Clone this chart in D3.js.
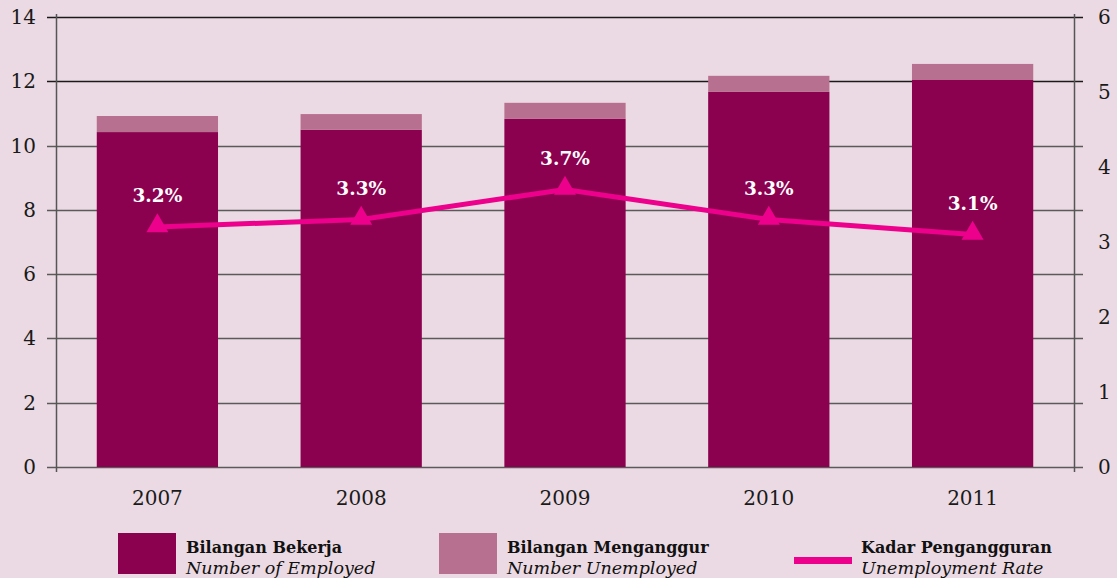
<!DOCTYPE html>
<html>
<head>
<meta charset="utf-8">
<script src="https://cdn.jsdelivr.net/npm/d3@7"></script>
<style>
  body { margin: 0; background: #ebdae3; }
  svg { display: block; font-family: "DejaVu Serif", serif; }
</style>
</head>
<body>
<svg id="chart" width="1117" height="578"></svg>
<script>
var years = ["2007", "2008", "2009", "2010", "2011"];
var employed = [10.42, 10.49, 10.83, 11.67, 12.04];
var unemployed = [0.5, 0.49, 0.5, 0.5, 0.5];
var rate = [3.2, 3.3, 3.7, 3.3, 3.1];
var leftTicks = [0, 2, 4, 6, 8, 10, 12, 14];
var rightTicks = [0, 1, 2, 3, 4, 5, 6];

var svg = d3.select("#chart");
var plotLeft = 56, plotRight = 1074, plotTop = 17, plotBottom = 467;

var x = d3.scaleBand().domain(years).range([plotLeft, plotRight]).paddingInner(0.405).paddingOuter(0.2);
var y = d3.scaleLinear().domain([0, 14]).range([plotBottom, plotTop]);
var y2 = d3.scaleLinear().domain([0, 6]).range([plotBottom, plotTop]);

// gridlines
svg.append("g")
  .selectAll("line")
  .data(leftTicks)
  .enter().append("line")
  .attr("x1", plotLeft - 9)
  .attr("x2", plotRight + 9)
  .attr("y1", function(d) { return Math.round(y(d)) + 0.5; })
  .attr("y2", function(d) { return Math.round(y(d)) + 0.5; })
  .attr("stroke", function(d) { return d >= 12 ? "#1a1a1a" : "#5a5a5a"; })
  .attr("stroke-width", 1.5);

// axis verticals
svg.append("line").attr("x1", plotLeft + 0.5).attr("x2", plotLeft + 0.5)
  .attr("y1", plotTop - 3).attr("y2", plotBottom + 5).attr("stroke", "#555").attr("stroke-width", 1.5);
svg.append("line").attr("x1", plotRight + 0.5).attr("x2", plotRight + 0.5)
  .attr("y1", plotTop - 3).attr("y2", plotBottom + 5).attr("stroke", "#555").attr("stroke-width", 1.5);

// left tick labels
svg.append("g")
  .selectAll("text")
  .data(leftTicks)
  .enter().append("text")
  .attr("x", 36)
  .attr("y", function(d) { return y(d) + 7; })
  .attr("text-anchor", "end")
  .attr("font-size", 20)
  .attr("fill", "#1a1a1a")
  .text(function(d) { return d; });

// right tick labels
svg.append("g")
  .selectAll("text")
  .data(rightTicks)
  .enter().append("text")
  .attr("x", 1098)
  .attr("y", function(d) { return y2(d) + 7; })
  .attr("font-size", 20)
  .attr("fill", "#1a1a1a")
  .text(function(d) { return d; });

// bars
svg.append("g")
  .selectAll("rect")
  .data(years)
  .enter().append("rect")
  .attr("x", function(d) { return x(d); })
  .attr("width", x.bandwidth())
  .attr("y", function(d, i) { return y(employed[i]); })
  .attr("height", function(d, i) { return plotBottom - y(employed[i]); })
  .attr("fill", "#8b004f");

svg.append("g")
  .selectAll("rect")
  .data(years)
  .enter().append("rect")
  .attr("x", function(d) { return x(d); })
  .attr("width", x.bandwidth())
  .attr("y", function(d, i) { return y(employed[i] + unemployed[i]); })
  .attr("height", function(d, i) { return y(employed[i]) - y(employed[i] + unemployed[i]); })
  .attr("fill", "#b87090");

// year labels
svg.append("g")
  .selectAll("text")
  .data(years)
  .enter().append("text")
  .attr("x", function(d) { return x(d) + x.bandwidth() / 2; })
  .attr("y", 505)
  .attr("text-anchor", "middle")
  .attr("font-size", 20)
  .attr("fill", "#1a1a1a")
  .text(function(d) { return d; });

// rate line
var line = d3.line()
  .x(function(d, i) { return x(years[i]) + x.bandwidth() / 2; })
  .y(function(d) { return y2(d); });

svg.append("path")
  .datum(rate)
  .attr("d", line)
  .attr("fill", "none")
  .attr("stroke", "#ec008c")
  .attr("stroke-width", 5);

svg.append("g")
  .selectAll("path")
  .data(rate)
  .enter().append("path")
  .attr("d", d3.symbol().type(d3.symbolTriangle).size(210))
  .attr("transform", function(d, i) {
    return "translate(" + (x(years[i]) + x.bandwidth() / 2) + "," + (y2(d) - 1) + ")";
  })
  .attr("fill", "#ec008c");

svg.append("g")
  .selectAll("text")
  .data(rate)
  .enter().append("text")
  .attr("x", function(d, i) { return x(years[i]) + x.bandwidth() / 2; })
  .attr("y", function(d) { return y2(d) - 25; })
  .attr("text-anchor", "middle")
  .attr("font-size", 18.5)
  .attr("font-weight", "bold")
  .attr("fill", "#ffffff")
  .text(function(d) { return d.toFixed(1) + "%"; });

// legend
var legend = [
  { bold: "Bilangan Bekerja", ital: "Number of Employed", x: 118, kind: "rect", color: "#8b004f" },
  { bold: "Bilangan Menganggur", ital: "Number Unemployed", x: 439, kind: "rect", color: "#b87090" },
  { bold: "Kadar Pengangguran", ital: "Unemployment Rate", x: 794, kind: "line", color: "#ec008c" }
];

var lg = svg.append("g")
  .selectAll("g")
  .data(legend)
  .enter().append("g");

lg.filter(function(d) { return d.kind == "rect"; })
  .append("rect")
  .attr("x", function(d) { return d.x; })
  .attr("y", 533)
  .attr("width", 58)
  .attr("height", 41)
  .attr("fill", function(d) { return d.color; });

lg.filter(function(d) { return d.kind == "line"; })
  .append("rect")
  .attr("x", function(d) { return d.x; })
  .attr("y", 557)
  .attr("width", 58)
  .attr("height", 7)
  .attr("fill", function(d) { return d.color; });

lg.append("text")
  .attr("x", function(d) { return d.x + (d.kind == "rect" ? 68 : 67); })
  .attr("y", 553)
  .attr("font-size", 16)
  .attr("font-weight", "bold")
  .attr("fill", "#111")
  .text(function(d) { return d.bold; });

lg.append("text")
  .attr("x", function(d) { return d.x + (d.kind == "rect" ? 68 : 67); })
  .attr("y", 574)
  .attr("font-size", 17.5)
  .attr("font-style", "italic")
  .attr("fill", "#111")
  .text(function(d) { return d.ital; });
</script>
</body>
</html>
